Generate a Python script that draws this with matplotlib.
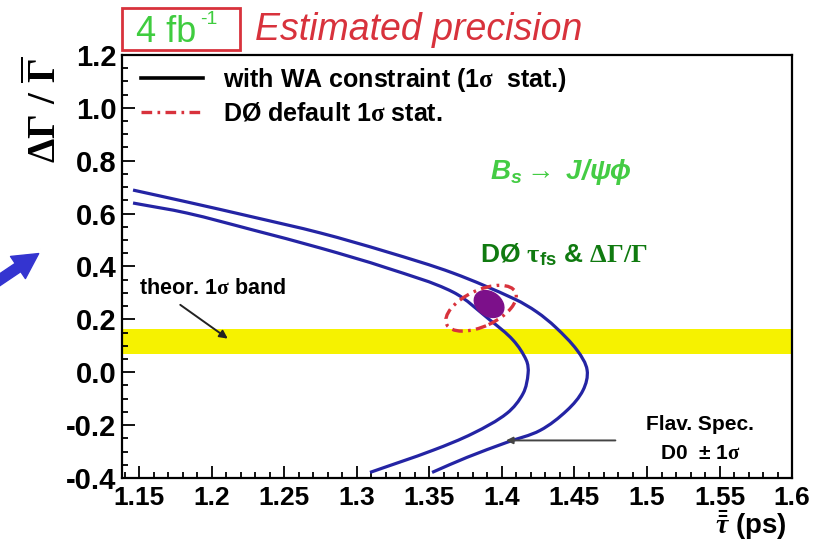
import numpy as np
import matplotlib
matplotlib.use('Agg')
import matplotlib.pyplot as plt
from matplotlib.lines import Line2D
from matplotlib.path import Path
from matplotlib.patches import Ellipse, FancyArrowPatch, Rectangle, PathPatch
from matplotlib.transforms import ScaledTranslation
from matplotlib.ticker import MultipleLocator, FormatStrFormatter

plt.rcParams['font.family'] = ['Liberation Sans', 'DejaVu Sans']
plt.rcParams['font.weight'] = 'bold'
plt.rcParams['mathtext.fontset'] = 'custom'
plt.rcParams['mathtext.rm'] = 'Liberation Serif'
plt.rcParams['mathtext.it'] = 'Liberation Serif:italic'
plt.rcParams['mathtext.bf'] = 'Liberation Sans:bold'
plt.rcParams['mathtext.sf'] = 'Liberation Sans:italic'
plt.rcParams['axes.unicode_minus'] = False

# flavour-specific lifetime contours, +-1 sigma (tau_bar in ps, dGamma/Gamma)
outer_tau = [1.1456, 1.1828, 1.2283, 1.2746, 1.3208, 1.3663, 1.4090, 1.4240, 1.4370,
             1.4518, 1.4587, 1.4559, 1.4449, 1.4263, 1.4035, 1.3759, 1.3518]
outer_dg = [0.689, 0.644, 0.587, 0.527, 0.455, 0.375, 0.276, 0.228, 0.170,
            0.083, 0.008, -0.068, -0.144, -0.220, -0.265, -0.322, -0.379]
inner_tau = [1.1456, 1.1828, 1.2283, 1.2746, 1.3208, 1.3663, 1.3918, 1.4077, 1.4168,
             1.4180, 1.4146, 1.4035, 1.3801, 1.3525, 1.3090]
inner_dg = [0.640, 0.602, 0.538, 0.470, 0.394, 0.303, 0.197, 0.121, 0.045,
            -0.004, -0.080, -0.155, -0.231, -0.295, -0.379]

# theory band for dGamma/Gamma
band_lo = 0.07
band_hi = 0.165

# projected D0 measurement and its default 1 sigma contour
meas_tau, meas_dg = 1.3911, 0.258
d0_tau, d0_dg = 1.3856, 0.242

x_ticks = [1.15, 1.2, 1.25, 1.3, 1.35, 1.4, 1.45, 1.5, 1.55, 1.6]
x_labels = ['1.15', '1.2', '1.25', '1.3', '1.35', '1.4', '1.45', '1.5', '1.55', '1.6']

fig = plt.figure(figsize=(8.2, 5.41), dpi=100)
ax = fig.add_axes([0.1488, 0.1165, 0.8171, 0.7819])
ax.set_xlim(1.138, 1.6)
ax.set_ylim(-0.4, 1.2)


def smooth_path(xs, ys):
    # bezier through the points; tangents worked out in screen space so the
    # very different x/y scales don't bend the curve
    pts = ax.transData.transform(np.column_stack([xs, ys]))
    n = len(pts)
    tang = []
    for i in range(n):
        d = pts[min(i + 1, n - 1)] - pts[max(i - 1, 0)]
        tang.append(d / np.hypot(*d))
    verts = [pts[0]]
    codes = [Path.MOVETO]
    for i in range(n - 1):
        h = np.hypot(*(pts[i + 1] - pts[i])) / 3.0
        verts += [pts[i] + h * tang[i], pts[i + 1] - h * tang[i + 1], pts[i + 1]]
        codes += [Path.CURVE4] * 3
    verts = ax.transData.inverted().transform(np.array(verts))
    return Path(verts, codes)


ax.axhspan(band_lo, band_hi, color='#f6f200', lw=0, zorder=1)

blue = '#2424a4'
for xs, ys in [(outer_tau, outer_dg), (inner_tau, inner_dg)]:
    ax.add_patch(PathPatch(smooth_path(xs, ys), fill=False, ec=blue, lw=2.3, zorder=3,
                           capstyle='butt'))


def px_ellipse(x, y, w, h, angle, **kw):
    # size given in pixels around a data point
    tr = fig.dpi_scale_trans + ScaledTranslation(x, y, ax.transData)
    return Ellipse((0, 0), w / 100.0, h / 100.0, angle=angle, transform=tr, **kw)


red = '#d8323c'
dashdot = (0, (3.2, 1.6, 0.8, 1.6))
ax.add_patch(px_ellipse(meas_tau, meas_dg, 32, 24, -35, color='#7c108a', zorder=4))
ax.add_patch(px_ellipse(d0_tau, d0_dg, 76, 36, 25, fill=False, ec=red, lw=2.4,
                        ls=dashdot, zorder=5))

# legend
handles = [Line2D([], [], color='black', lw=2.6),
           Line2D([], [], color=red, lw=2.4, ls=dashdot)]
labels = [r'with WA constraint (1$\mathrm{\sigma}$  stat.)',
          r'DØ default 1$\mathrm{\sigma}$ stat.']
ax.legend(handles, labels, loc='upper left', bbox_to_anchor=(0.028, 0.975), frameon=False,
          fontsize=18, handlelength=2.5, handletextpad=0.8, labelspacing=0.32, borderpad=0,
          borderaxespad=0)

ax.text(0.549, 0.723, r'$\mathsf{B_s}$$\rightarrow$ $\mathsf{J/\psi\phi}$',
        transform=ax.transAxes, color='#44cc44', fontsize=20, va='center', ha='left')
ax.text(0.534, 0.527, r'DØ $\mathrm{\tau}_{\mathbf{fs}}$ & $\Delta\Gamma/\Gamma$',
        transform=ax.transAxes, color='#107a10', fontsize=19, va='center', ha='left')

ax.text(0.0254, 0.449, r'theor. 1$\mathrm{\sigma}$ band', transform=ax.transAxes,
        fontsize=15.5, va='center', ha='left')
ax.annotate('', xy=(1.2125, 0.121), xytext=(1.1766, 0.261),
            arrowprops=dict(arrowstyle='-|>', color='#222222', lw=1.4, mutation_scale=12),
            zorder=6)

ax.text(0.8627, 0.127, 'Flav. Spec.', transform=ax.transAxes, fontsize=15,
        va='center', ha='center')
ax.text(0.8627, 0.057, r'D0  ± 1$\mathrm{\sigma}$', transform=ax.transAxes, fontsize=15,
        va='center', ha='center')
ax.annotate('', xy=(1.4008, -0.258), xytext=(1.4801, -0.258),
            arrowprops=dict(arrowstyle='-|>', color='#444444', lw=1.4, mutation_scale=10),
            zorder=6)

# axes styling
ax.set_xticks(x_ticks)
ax.set_xticklabels(x_labels)
ax.xaxis.set_minor_locator(MultipleLocator(0.01))
ax.yaxis.set_major_locator(MultipleLocator(0.2))
ax.yaxis.set_minor_locator(MultipleLocator(0.05))
ax.yaxis.set_major_formatter(FormatStrFormatter('%.1f'))
ax.tick_params(which='both', direction='in', top=False, right=False, width=1.3)
ax.tick_params(which='major', length=9)
ax.tick_params(which='minor', length=4.5)
ax.tick_params(axis='x', labelsize=19, pad=6)
ax.tick_params(axis='y', labelsize=21, pad=4)
for s in ax.spines.values():
    s.set_linewidth(1.6)

fig.text(44 / 820, 1 - 110 / 541, r'$\Delta\Gamma\ /\ \overline{\Gamma}$', rotation=90,
         fontsize=28, ha='center', va='center')
fig.text(787 / 820, 1 - 525 / 541, r'$\bar{\bar{\tau}}$ (ps)', fontsize=20, ha='right',
         va='center')

# header above the frame
fig.patches.append(Rectangle((122 / 820, 1 - 50 / 541), 118 / 820, 42 / 541, fill=False,
                             ec=red, lw=2, transform=fig.transFigure))
fig.text(136 / 820, 1 - 32 / 541, '4 fb', color='#3fcc3f', fontsize=26,
         weight='normal', ha='left', va='center')
fig.text(200 / 820, 1 - 20 / 541, '-1', color='#3fcc3f', fontsize=14,
         weight='normal', ha='left', va='center')
fig.text(255 / 820, 1 - 30 / 541, 'Estimated precision', color=red, fontsize=27,
         weight='normal', style='italic', ha='left', va='center')

# arrows at the left edge
arrow_kw = dict(arrowstyle='simple,head_width=1.6,head_length=1.5,tail_width=0.6',
                mutation_scale=12, color='#3434d0', transform=fig.transFigure)
fig.patches.append(FancyArrowPatch((-8 / 820, 1 - 285 / 541), (41 / 820, 1 - 252 / 541),
                                   **arrow_kw))
fig.patches.append(FancyArrowPatch((-34 / 820, 1 - 350 / 541), (0 / 820, 1 - 396 / 541),
                                   **arrow_kw))

fig.savefig('out.png', dpi=100)
